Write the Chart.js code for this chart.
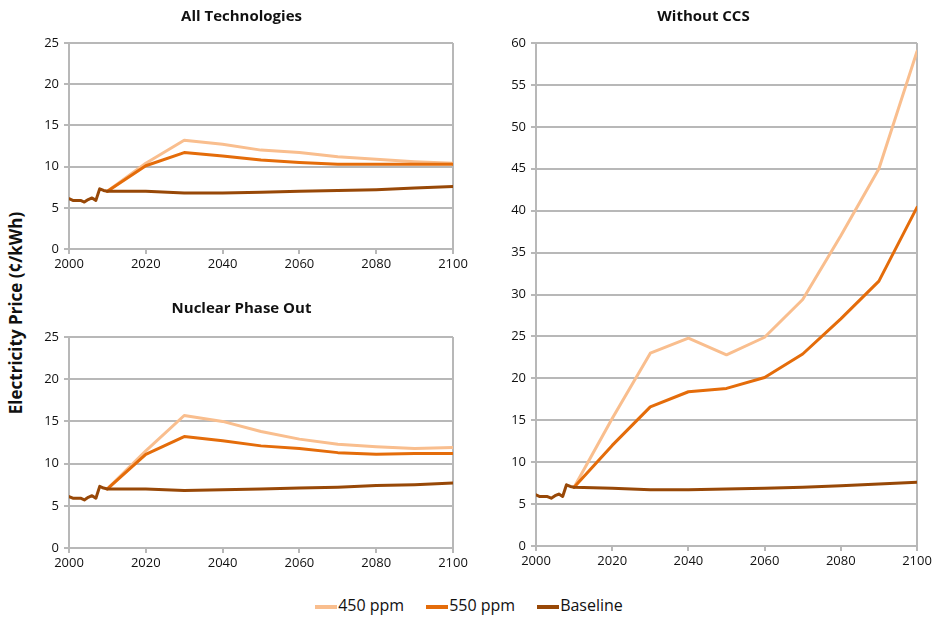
<!DOCTYPE html>
<html>
<head>
<meta charset="utf-8">
<script src="https://cdn.jsdelivr.net/npm/chart.js@4"></script>
<style>
  body { margin: 0; background: #fff; font-family: "Open Sans", sans-serif; }
  #wrap { position: relative; width: 938px; height: 619px; }
  .box { position: absolute; }
  #ylabel {
    position: absolute; left: 15px; top: 313px;
    transform: translate(-50%, -50%) rotate(-90deg);
    white-space: nowrap; font-weight: bold; font-size: 17px; color: #111;
  }
  #legend {
    position: absolute; left: 0; width: 938px; top: 594px;
    display: flex; justify-content: center; gap: 22px; font-size: 16px; color: #111;
  }
  #legend span.sw { display: inline-block; width: 22px; height: 4px; vertical-align: middle; margin-right: 1px; }
</style>
</head>
<body>
<div id="wrap">
  <div class="box" style="left:30px;top:0;width:440px;height:275px"><canvas id="allTech"></canvas></div>
  <div class="box" style="left:30px;top:290px;width:440px;height:285px"><canvas id="nuclear"></canvas></div>
  <div class="box" style="left:490px;top:0;width:445px;height:573px"><canvas id="noCcs"></canvas></div>
  <div id="ylabel">Electricity Price (¢/kWh)</div>
  <div id="legend">
    <div><span class="sw" style="background:#F9BE8E"></span>450 ppm</div>
    <div><span class="sw" style="background:#E46C0A"></span>550 ppm</div>
    <div><span class="sw" style="background:#984807"></span>Baseline</div>
  </div>
</div>
<script>
// historical years share one baseline path
const histYears = [2000, 2001, 2002, 2003, 2004, 2005, 2006, 2007, 2008, 2009, 2010];
const histPrice = [6.1, 5.9, 5.9, 5.9, 5.7, 6.0, 6.2, 5.9, 7.3, 7.1, 7.0];

// scenario years (from 2010)
const scenYears = [2010, 2020, 2030, 2040, 2050, 2060, 2070, 2080, 2090, 2100];

const allTech450 = [7.0, 10.4, 13.2, 12.7, 12.0, 11.7, 11.2, 10.9, 10.6, 10.4];
const allTech550 = [7.0, 10.1, 11.7, 11.3, 10.8, 10.5, 10.3, 10.3, 10.3, 10.3];
const allTechBase = [7.0, 7.0, 6.8, 6.8, 6.9, 7.0, 7.1, 7.2, 7.4, 7.6];

const nuclear450 = [7.0, 11.5, 15.7, 15.0, 13.8, 12.9, 12.3, 12.0, 11.8, 11.9];
const nuclear550 = [7.0, 11.1, 13.2, 12.7, 12.1, 11.8, 11.3, 11.1, 11.2, 11.2];
const nuclearBase = [7.0, 7.0, 6.8, 6.9, 7.0, 7.1, 7.2, 7.4, 7.5, 7.7];

const noCcs450 = [7.0, 15.2, 23.0, 24.8, 22.8, 24.9, 29.4, 37.0, 45.0, 59.0];
const noCcs550 = [7.0, 12.0, 16.6, 18.4, 18.8, 20.1, 22.9, 27.1, 31.6, 40.4];
const noCcsBase = [7.0, 6.9, 6.7, 6.7, 6.8, 6.9, 7.0, 7.2, 7.4, 7.6];

const xTicks = [2000, 2020, 2040, 2060, 2080, 2100];

const gridGrey = '#b8b8b8';
const fontFam = '"Open Sans", sans-serif';

function pts(years, vals) {
    return years.map((y, i) => ({ x: y, y: vals[i] }));
}

function baselinePts(vals) {
    return pts(histYears, histPrice).concat(pts(scenYears.slice(1), vals.slice(1)));
}

function makeChart(id, title, p450, p550, base, yMax, box) {
    const ctx = document.getElementById(id).getContext('2d');
    new Chart(ctx, {
        type: 'line',
        data: {
            datasets: [
                { label: '450 ppm', data: pts(scenYears, p450), borderColor: '#F9BE8E', order: 3 },
                { label: '550 ppm', data: pts(scenYears, p550), borderColor: '#E46C0A', order: 2 },
                { label: 'Baseline', data: baselinePts(base), borderColor: '#984807', order: 1 }
            ]
        },
        options: {
            responsive: true,
            maintainAspectRatio: false,
            animation: false,
            events: [],
            layout: { padding: { right: box.padRight, top: 0, left: 0, bottom: 0 } },
            elements: {
                point: { radius: 0 },
                line: { borderWidth: 3, tension: 0, borderCapStyle: 'round', borderJoinStyle: 'round' }
            },
            plugins: {
                legend: { display: false },
                tooltip: { enabled: false },
                title: {
                    display: true,
                    text: title,
                    color: '#111',
                    font: { family: fontFam, size: 15, weight: 'bold' },
                    padding: { top: box.titleTop, bottom: box.titleBottom }
                }
            },
            scales: {
                x: {
                    type: 'linear',
                    min: 2000,
                    max: 2100,
                    afterBuildTicks: axis => { axis.ticks = xTicks.map(v => ({ value: v })); },
                    afterFit: axis => { axis.height = box.xHeight; },
                    ticks: {
                        color: '#111', font: { family: fontFam, size: 13 }, padding: 2, maxRotation: 0,
                        callback: v => String(v)
                    },
                    grid: {
                        color: c => (c.index === 0 || c.index === xTicks.length - 1) ? gridGrey : 'rgba(0,0,0,0)',
                        tickColor: gridGrey,
                        lineWidth: 2,
                        tickLength: 5
                    },
                    border: { color: gridGrey, width: 2 }
                },
                y: {
                    min: 0,
                    max: yMax,
                    ticks: { stepSize: 5, color: '#111', font: { family: fontFam, size: 13 }, padding: 5 },
                    afterFit: axis => { axis.width = box.yWidth; },
                    grid: { color: gridGrey, lineWidth: 2, tickLength: 5, tickColor: gridGrey },
                    border: { color: gridGrey, width: 2 }
                }
            }
        }
    });
}

makeChart('allTech', 'All Technologies', allTech450, allTech550, allTechBase, 25,
    { padRight: 17, titleTop: 8, titleBottom: 17, xHeight: 26, yWidth: 39 });
makeChart('nuclear', 'Nuclear Phase Out', nuclear450, nuclear550, nuclearBase, 25,
    { padRight: 17, titleTop: 10, titleBottom: 19, xHeight: 27, yWidth: 39 });
makeChart('noCcs', 'Without CCS', noCcs450, noCcs550, noCcsBase, 60,
    { padRight: 18, titleTop: 8, titleBottom: 17, xHeight: 27, yWidth: 46 });
</script>
</body>
</html>
